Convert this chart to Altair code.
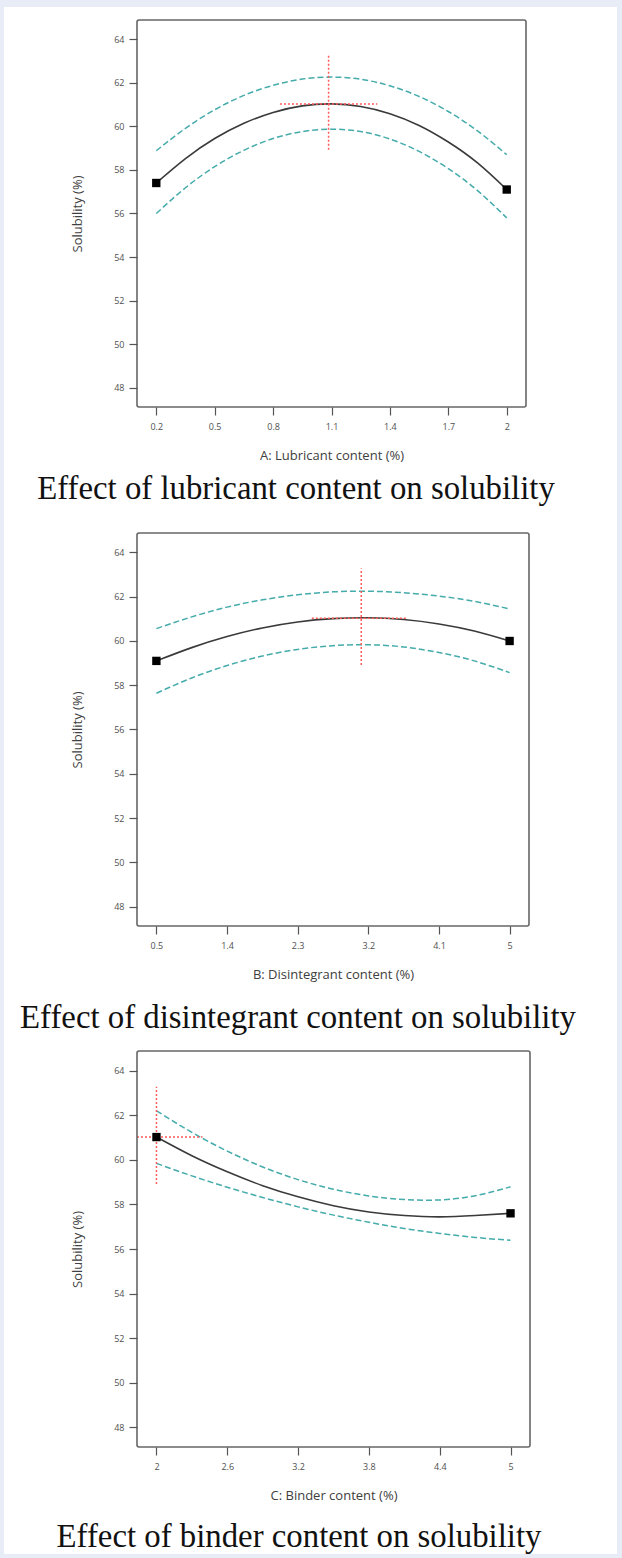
import altair as alt
import pandas as pd

# ---------------- data ----------------
# Panel A: lubricant content
a_x     = [0.2, 0.35, 0.5, 0.65, 0.8, 0.95, 1.1, 1.25, 1.4, 1.55, 1.7, 1.85, 2.0]
a_mean  = [57.40, 58.52, 59.44, 60.14, 60.64, 60.94, 61.03, 60.91, 60.58, 60.04, 59.28, 58.32, 57.10]
a_upper = [58.88, 59.91, 60.76, 61.42, 61.88, 62.17, 62.26, 62.16, 61.86, 61.37, 60.68, 59.79, 58.70]
a_lower = [56.00, 57.18, 58.15, 58.90, 59.44, 59.76, 59.87, 59.76, 59.42, 58.85, 58.06, 57.05, 55.80]
a_pts_x = [0.2, 2.0]
a_pts_y = [57.40, 57.10]
a_cross = [1.085, 61.03, 58.92, 63.28, 0.835, 1.335]   # x, y, v-low, v-high, h-left, h-right

# Panel B: disintegrant content
b_x     = [0.5, 0.95, 1.4, 1.85, 2.3, 2.75, 3.2, 3.65, 4.1, 4.55, 5.0]
b_mean  = [59.10, 59.70, 60.20, 60.59, 60.86, 61.01, 61.05, 60.97, 60.77, 60.45, 60.00]
b_upper = [60.56, 61.09, 61.53, 61.86, 62.09, 62.22, 62.25, 62.18, 62.03, 61.79, 61.45]
b_lower = [57.64, 58.33, 58.89, 59.32, 59.62, 59.79, 59.83, 59.73, 59.48, 59.10, 58.57]
b_pts_x = [0.5, 5.0]
b_pts_y = [59.10, 60.00]
b_cross = [3.11, 61.03, 58.92, 63.28, 2.48, 3.70]

# Panel C: binder content
c_x     = [2.0, 2.3, 2.6, 2.9, 3.2, 3.5, 3.8, 4.1, 4.4, 4.7, 5.0]
c_mean  = [61.02, 60.18, 59.46, 58.84, 58.34, 57.94, 57.66, 57.50, 57.44, 57.50, 57.60]
c_upper = [62.20, 61.23, 60.39, 59.68, 59.11, 58.68, 58.38, 58.22, 58.20, 58.39, 58.79]
c_lower = [59.84, 59.28, 58.77, 58.31, 57.89, 57.52, 57.20, 56.92, 56.70, 56.52, 56.39]
c_pts_x = [2.0, 5.0]
c_pts_y = [61.02, 57.60]
c_cross = [2.0, 61.02, 58.92, 63.28, 1.835, 2.39]

a_ticks = [0.2, 0.5, 0.8, 1.1, 1.4, 1.7, 2.0]
b_ticks = [0.5, 1.4, 2.3, 3.2, 4.1, 5.0]
c_ticks = [2.0, 2.6, 3.2, 3.8, 4.4, 5.0]
y_ticks = [48, 50, 52, 54, 56, 58, 60, 62, 64]

a_title = "A: Lubricant content (%)"
b_title = "B: Disintegrant content (%)"
c_title = "C: Binder content (%)"
y_title = "Solubility (%)"
captions = ["Effect of lubricant content on solubility",
            "Effect of disintegrant content on solubility",
            "Effect of binder content on solubility"]

# ---------------- styling ----------------
PAGE_BG = "#e8ecf6"
TEAL = "#45abab"
RED = "#ff5a5a"
LINE = "#3a3a3a"
FRAME = "#676767"
SANS = "Open Sans"
SERIF = "Liberation Serif"
Y_DOMAIN = [47.12, 64.88]
LEFT_EXT = -133      # white sheet left edge, relative to plot origin
RIGHT_EXT = 480      # white sheet right edge, relative to plot origin


def panel(xs, mean, upper, lower, px, py, cross, ticks, xdomain, xtitle, caption,
          W, H, top, bottom, cap_x, cap_y):
    xs_enc = alt.X("x:Q", scale=alt.Scale(domain=xdomain, nice=False, zero=False),
                   axis=alt.Axis(values=ticks, labelExpr="format(datum.value, '.2~f')",
                                 title=xtitle, zindex=1))
    ys_enc = alt.Y("y:Q", scale=alt.Scale(domain=Y_DOMAIN, nice=False, zero=False),
                   axis=alt.Axis(values=y_ticks, title=y_title, zindex=1))

    bg = alt.Chart(pd.DataFrame({"k": [0]})).mark_rect(
        fill="white", strokeWidth=0).encode(
        x=alt.value(LEFT_EXT), x2=alt.value(RIGHT_EXT),
        y=alt.value(top), y2=alt.value(bottom))

    band_df = pd.DataFrame({
        "x": xs + xs,
        "y": upper + lower,
        "band": ["upper"] * len(xs) + ["lower"] * len(xs),
    })
    bands = alt.Chart(band_df).mark_line(
        color=TEAL, strokeWidth=1.5, strokeDash=[6, 3], interpolate="natural"
    ).encode(x=xs_enc, y=ys_enc, detail="band:N")

    mean_df = pd.DataFrame({"x": xs, "y": mean})
    mline = alt.Chart(mean_df).mark_line(
        color=LINE, strokeWidth=1.6, interpolate="natural"
    ).encode(x=xs_enc, y=ys_enc)

    vdf = pd.DataFrame({"x": [cross[0]], "y": [cross[2]], "y2": [cross[3]]})
    vrule = alt.Chart(vdf).mark_rule(color=RED, strokeWidth=1.5, strokeDash=[2, 2]).encode(
        x=xs_enc, y=ys_enc, y2="y2:Q")
    hdf = pd.DataFrame({"x": [cross[4]], "x2": [cross[5]], "y": [cross[1]]})
    hrule = alt.Chart(hdf).mark_rule(color=RED, strokeWidth=1.5, strokeDash=[2, 2]).encode(
        x=xs_enc, x2="x2:Q", y=ys_enc)

    pts_df = pd.DataFrame({"x": px, "y": py})
    pts = alt.Chart(pts_df).mark_square(color="black", size=70, opacity=1).encode(
        x=xs_enc, y=ys_enc)

    frame = alt.Chart(pd.DataFrame({"k": [0]})).mark_rect(
        fillOpacity=0, stroke=FRAME, strokeWidth=1.6, cornerRadius=2).encode(
        x=alt.value(0), x2=alt.value(W), y=alt.value(0), y2=alt.value(H))

    cap = alt.Chart(pd.DataFrame({"caption": [caption]})).mark_text(
        font=SERIF, fontSize=32.8, color="#111", align="center", baseline="alphabetic"
    ).encode(x=alt.value(cap_x), y=alt.value(cap_y), text="caption:N")

    return alt.layer(bg, bands, mline, vrule, hrule, pts, frame, cap).properties(
        width=W, height=H)


p1 = panel(a_x, a_mean, a_upper, a_lower, a_pts_x, a_pts_y, a_cross, a_ticks,
           [0.101, 2.099], a_title, captions[0],
           W=389, H=387, top=-13, bottom=496, cap_x=159, cap_y=479)
p2 = panel(b_x, b_mean, b_upper, b_lower, b_pts_x, b_pts_y, b_cross, b_ticks,
           [0.253, 5.247], b_title, captions[1],
           W=392, H=393, top=-17, bottom=507, cap_x=161, cap_y=495)
p3 = panel(c_x, c_mean, c_upper, c_lower, c_pts_x, c_pts_y, c_cross, c_ticks,
           [1.835, 5.165], c_title, captions[2],
           W=393, H=396, top=-11, bottom=503, cap_x=162, cap_y=496)

chart = alt.vconcat(p1, p2, p3, spacing=0).properties(
    background=PAGE_BG,
    padding={"left": 4, "right": 5, "top": 7, "bottom": 4},
).configure_view(stroke=None).configure_axis(
    domain=False,
    ticks=True,
    tickSize=8,
    tickColor="#555",
    tickWidth=1.2,
    labelFont=SANS,
    labelFontSize=9,
    labelColor="#505050",
    labelPadding=5,
    titleFont=SANS,
    titleFontSize=13,
    titleFontWeight="normal",
    titleColor="#404040",
    grid=False,
).configure_axisX(
    labelPadding=7,
    titlePadding=18,
).configure_axisY(
    titlePadding=29,
)

chart.save("out.html", embed_options={"renderer": "svg", "actions": False})
